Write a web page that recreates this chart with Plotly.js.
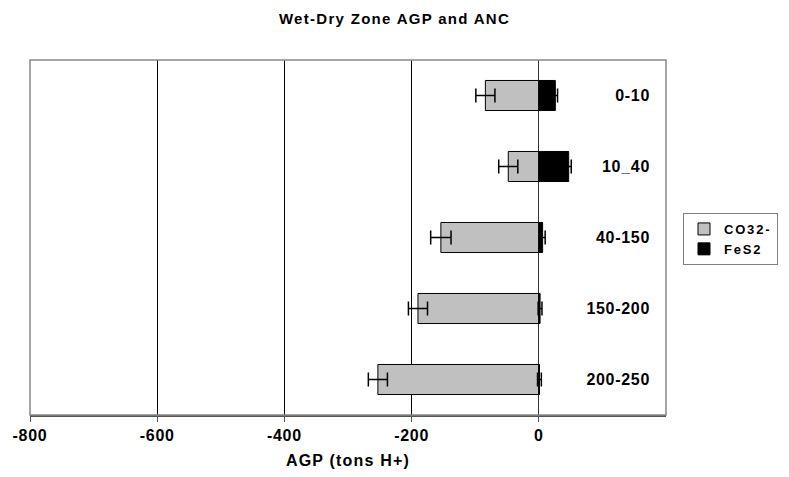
<!DOCTYPE html>
<html>
<head>
<meta charset="utf-8">
<script src="https://cdn.plot.ly/plotly-3.0.1.min.js"></script>
<style>
  html, body { margin: 0; padding: 0; background: #fff; }
  #chart { width: 789px; height: 477px; }
  .gtitle { letter-spacing: 1.3px; }
  .g-xtitle text { letter-spacing: 1.2px; }
  .xtick text, .ytick text { letter-spacing: 0.7px; }
  .legendtext { letter-spacing: 1.8px; }
</style>
</head>
<body>
<div id="chart"></div>
<script>
const categories = ['0-10', '10_40', '40-150', '150-200', '200-250'];
const co3Values = [-84, -48, -154, -190, -253];
const co3Errors = [15, 15, 16, 15, 15];
const fes2Values = [26, 47, 6, 2, 1];
const fes2Errors = [3.5, 4, 4, 3, 3];
const xTickVals = [-800, -600, -400, -200, 0, 200];

const FONT = 'Liberation Sans, Arial, sans-serif';

const traces = [
  {
    type: 'bar', orientation: 'h', name: 'CO32-',
    y: categories, x: co3Values,
    marker: { color: '#C0C0C0', line: { color: '#000000', width: 1 } },
    error_x: { type: 'data', array: co3Errors, visible: true, color: '#000000', thickness: 1.5, width: 7 }
  },
  {
    type: 'bar', orientation: 'h', name: 'FeS2',
    y: categories, x: fes2Values,
    marker: { color: '#000000', line: { color: '#000000', width: 1 } },
    error_x: { type: 'data', array: fes2Errors, visible: true, color: '#000000', thickness: 1.5, width: 7 }
  }
];

const layout = {
  width: 789, height: 477,
  paper_bgcolor: '#ffffff', plot_bgcolor: '#ffffff',
  margin: { l: 30, r: 123, t: 60, b: 62 },
  barmode: 'relative',
  bargap: 0.577,
  font: { family: FONT, size: 16, color: '#000000', weight: 'bold' },
  title: {
    text: 'Wet-Dry Zone AGP and ANC',
    font: { family: FONT, size: 15, weight: 'bold', color: '#000000' },
    xref: 'container', x: 0.5, xanchor: 'center',
    yref: 'container', y: 1 - 19 / 477, yanchor: 'middle'
  },
  xaxis: {
    range: [-800, 200],
    tickvals: xTickVals,
    ticktext: xTickVals.map(String),
    showgrid: true, gridcolor: '#000000', gridwidth: 1,
    zeroline: true, zerolinecolor: '#333333', zerolinewidth: 1,
    showline: true, linecolor: '#555555', linewidth: 1.5, mirror: false,
    ticks: 'outside', ticklen: 5, tickcolor: '#555555', tickwidth: 1,
    tickfont: { family: FONT, size: 16, weight: 'bold', color: '#000000' },
    title: { text: 'AGP (tons H+)', standoff: 12, font: { family: FONT, size: 16, weight: 'bold', color: '#000000' } },
    fixedrange: true
  },
  yaxis: {
    type: 'category',
    categoryorder: 'array', categoryarray: categories,
    autorange: 'reversed',
    side: 'right',
    ticklabelposition: 'inside',
    ticklabelstandoff: 13,
    ticks: '',
    showgrid: false, zeroline: false,
    showline: false,
    tickfont: { family: FONT, size: 16, weight: 'bold', color: '#000000' },
    fixedrange: true
  },
  shapes: [
    { type: 'rect', xref: 'paper', yref: 'paper', x0: 0, x1: 1, y0: 0, y1: 1,
      line: { color: '#888888', width: 1.5 }, fillcolor: 'rgba(0,0,0,0)', layer: 'above' }
  ],
  showlegend: true,
  legend: {
    xref: 'container', yref: 'container',
    x: 683 / 789, y: 1 - 213 / 477,
    xanchor: 'left', yanchor: 'top',
    traceorder: 'normal',
    bgcolor: '#ffffff', bordercolor: '#808080', borderwidth: 1,
    font: { family: FONT, size: 13, weight: 'bold', color: '#000000' },
    tracegroupgap: 0
  }
};

Plotly.newPlot('chart', traces, layout, { displayModeBar: false, staticPlot: true });
</script>
</body>
</html>
